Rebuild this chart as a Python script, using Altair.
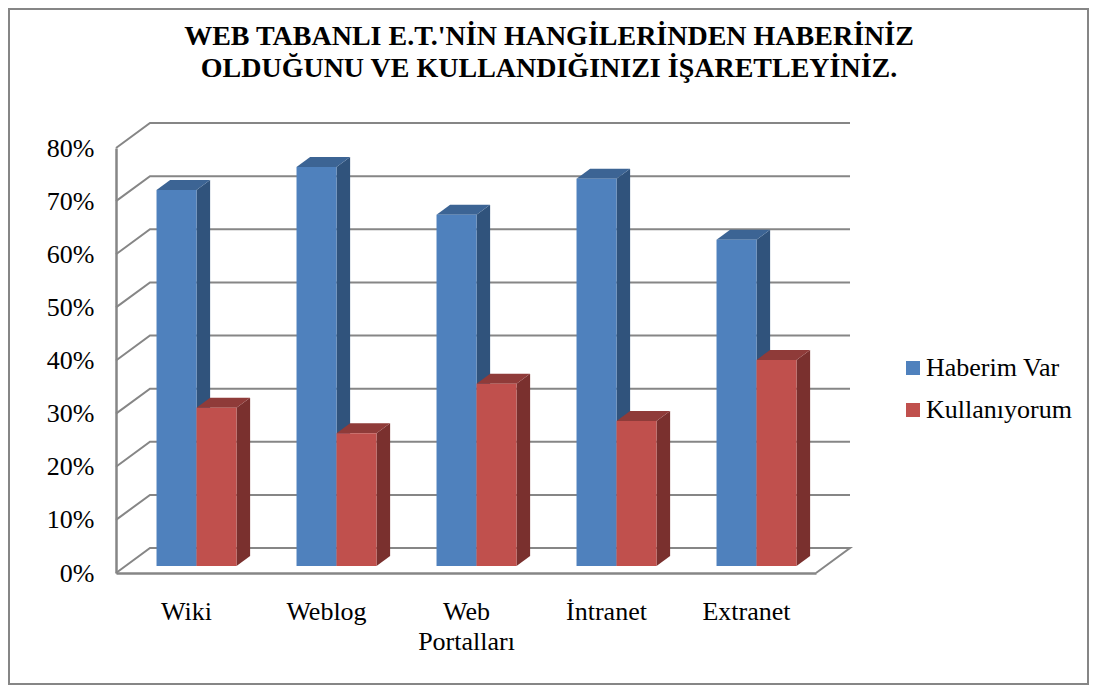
import altair as alt
import pandas as pd

CATEGORIES = ["Wiki", "Weblog", "Web\nPortalları", "İntranet", "Extranet"]
HABERIM = [0.708, 0.751, 0.661, 0.729, 0.614]
KULLANIYORUM = [0.298, 0.250, 0.343, 0.273, 0.388]
SERIES = ["Haberim Var", "Kullanıyorum"]
TICKS = [0.0, 0.1, 0.2, 0.3, 0.4, 0.5, 0.6, 0.7, 0.8]
TITLE = ["WEB TABANLI E.T.'NİN HANGİLERİNDEN HABERİNİZ", "OLDUĞUNU VE KULLANDIĞINIZI İŞARETLEYİNİZ."]

FRONT = ["#4F81BD", "#C0504D"]
TOP = ["#3C6494", "#8F3B39"]
SIDE = ["#30537C", "#7A302E"]
GRID = "#868686"
FONT = "Liberation Serif"

W, H = 700, 425
DX = 34 / 140   # wall depth in category units
DY = 25 / H * 0.8  # wall depth in value units
T1, T2 = 0.28, 0.68  # bar front/back inside the depth
BAR = 40 / 140
SHIFT = 1.0 / 140

label_expr = "[" + ",".join(
    "[" + ",".join("'" + p + "'" for p in c.split("\n")) + "]" for c in CATEGORIES
) + "][floor(datum.value)]"

xs = alt.Scale(domain=[0, 5], nice=False, zero=False)
ys = alt.Scale(domain=[0, 0.8], nice=False, zero=False)
x_axis = alt.Axis(
    values=[0.5, 1.5, 2.5, 3.5, 4.5], labelExpr=label_expr,
    grid=False, ticks=False, domain=True, domainColor=GRID, domainWidth=2.5,
    labelFont=FONT, labelFontSize=26, labelColor="#000000", labelPadding=25,
    labelLineHeight=30, labelAngle=0, labelOverlap=False, labelFlush=False, labelBaseline="top")
y_axis = alt.Axis(
    values=TICKS, format=".0%",
    grid=False, ticks=False, domain=True, domainColor=GRID, domainWidth=2.5,
    labelFont=FONT, labelFontSize=26, labelColor="#000000", labelPadding=22, labelOverlap=False)
X = alt.X("x:Q", scale=xs, axis=x_axis, title=None)
Y = alt.Y("y:Q", scale=ys, axis=y_axis, title=None)

# walls
wall_rows, floor_rows = [], []
for t in TICKS[1:]:
    for o, (x, y) in enumerate([(0, t), (DX, t + DY), (5 + DX, t + DY)]):
        wall_rows.append({"x": x, "y": y, "k": t, "o": o})
for o, (x, y) in enumerate([(0, 0), (DX, DY), (5 + DX, DY), (5, 0)]):
    floor_rows.append({"x": x, "y": y, "k": 0, "o": o})
lines = (
    alt.Chart(pd.DataFrame(wall_rows + floor_rows))
    .mark_line(color=GRID, strokeWidth=2)
    .encode(x=X, y=Y, detail="k:N", order="o:Q")
)

front_rows, top_rows, side_rows = [], [], []
for s, vals in enumerate([HABERIM, KULLANIYORUM]):
    for i, v in enumerate(vals):
        xl = i + 0.5 + (s - 1) * BAR + SHIFT
        xr = xl + BAR
        a, b = T1, T2
        front_rows.append({
            "series": SERIES[s], "s": s,
            "x": xl + a * DX, "x2": xr + a * DX, "y": a * DY, "y2": v + a * DY,
        })
        for t in (a, b):
            top_rows.append({"s": s, "k": f"{s}-{i}", "y": v + t * DY, "x": xl + t * DX, "x2": xr + t * DX})
            side_rows.append({"s": s, "k": f"{s}-{i}", "x": xr + t * DX, "y": t * DY, "y2": v + t * DY})
front_df, top_df, side_df = pd.DataFrame(front_rows), pd.DataFrame(top_rows), pd.DataFrame(side_rows)

layers = [lines]
for s in (0, 1):
    layers.append(
        alt.Chart(side_df[side_df.s == s]).mark_area(color=SIDE[s], orient="vertical", opacity=1)
        .encode(x=X, y=Y, y2=alt.Y2("y2:Q"), detail="k:N")
    )
    layers.append(
        alt.Chart(top_df[top_df.s == s]).mark_area(color=TOP[s], orient="horizontal", opacity=1)
        .encode(x=X, x2=alt.X2("x2:Q"), y=Y, detail="k:N")
    )
    layers.append(
        alt.Chart(front_df[front_df.s == s]).mark_rect()
        .encode(
            x=X, x2=alt.X2("x2:Q"), y=Y, y2=alt.Y2("y2:Q"),
            color=alt.Color(
                "series:N",
                scale=alt.Scale(domain=SERIES, range=FRONT),
                legend=alt.Legend(
                    orient="none", legendX=784, legendY=207, title=None,
                    symbolType="square", symbolSize=196, symbolStrokeWidth=0,
                    labelFont=FONT, labelFontSize=26, labelColor="#000000",
                    labelOffset=0, rowPadding=16,
                ),
            ),
        )
    )

frame = (
    alt.Chart(pd.DataFrame({"a": [0]}))
    .mark_rect(filled=False, stroke=GRID, strokeWidth=2)
    .encode(x=alt.value(-107), x2=alt.value(972), y=alt.value(-139), y2=alt.value(536))
)

chart = (
    alt.layer(frame, *layers)
    .properties(
        width=W, height=H,
        padding={"left": 108, "top": 140, "right": 273, "bottom": 112},
        autosize=alt.AutoSizeParams(type="none"),
        background="#FFFFFF",
        title=alt.TitleParams(
            text=TITLE, font=FONT, fontSize=28, fontWeight="bold", color="#000000",
            anchor="middle", lineHeight=32, dx=83, offset=-75,
        ),
    )
    .configure_view(stroke=None)
)

chart.save("out.html", embed_options={"renderer": "svg", "actions": False})
